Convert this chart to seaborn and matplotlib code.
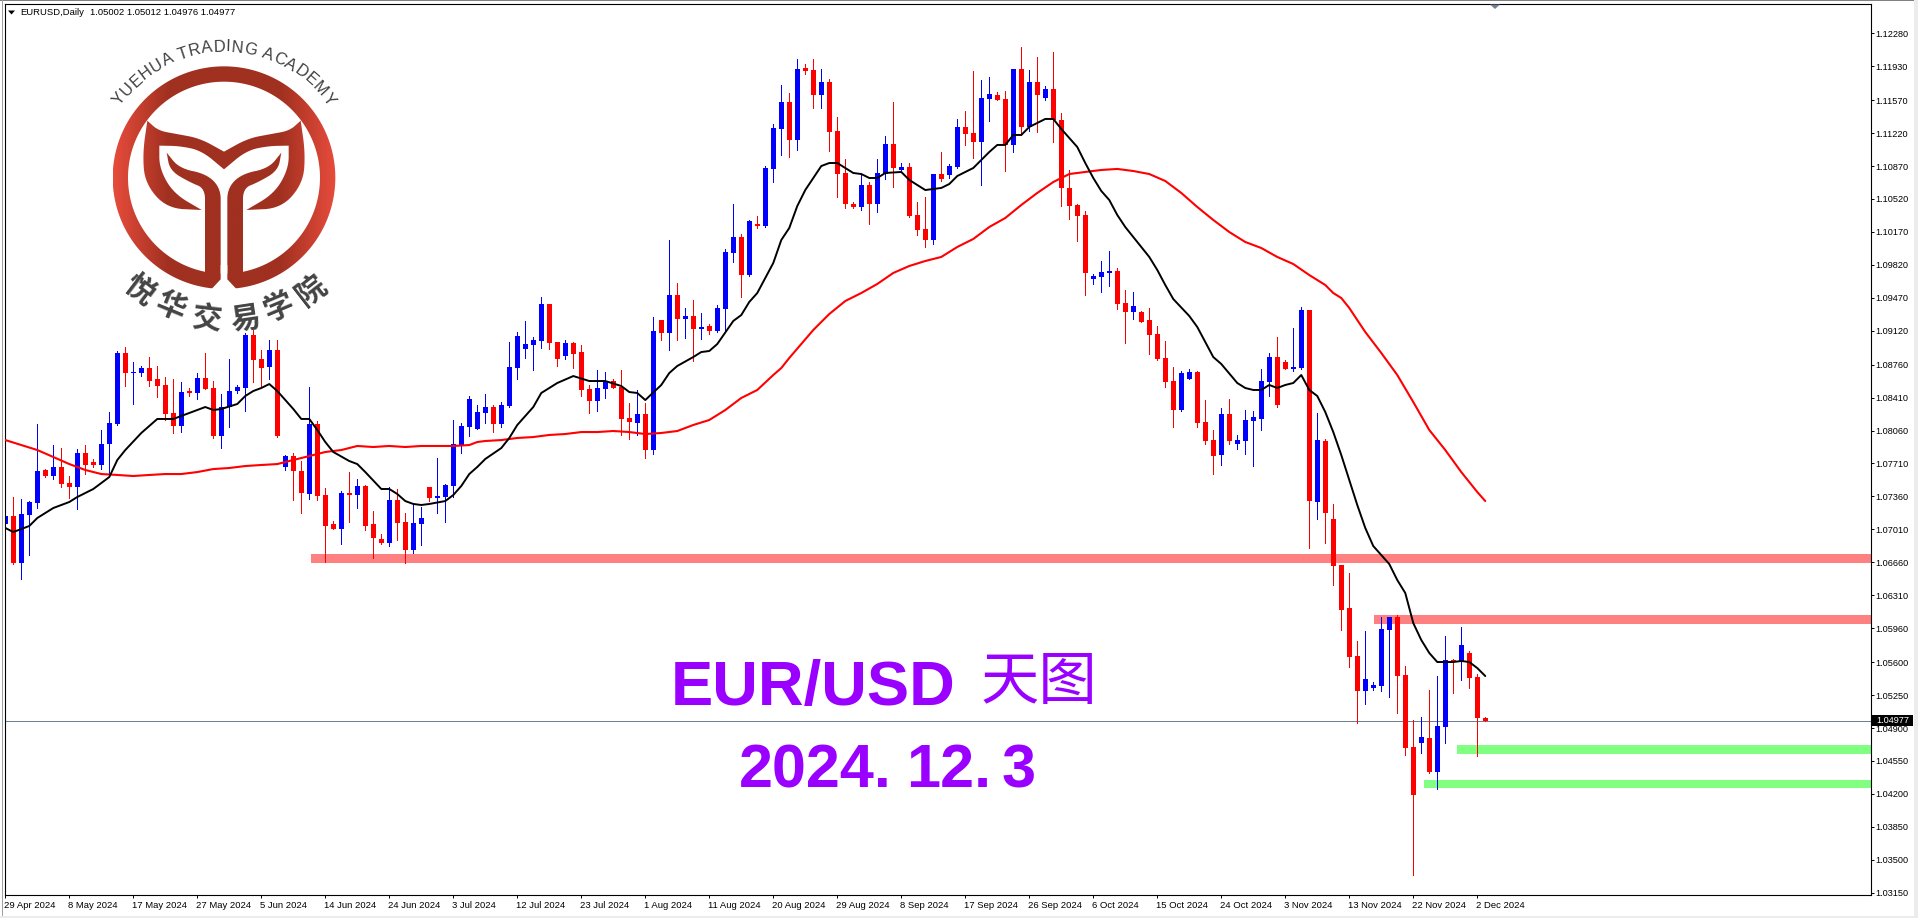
import numpy as np
import pandas as pd
import matplotlib
matplotlib.use('Agg')
import matplotlib.pyplot as plt
from matplotlib.font_manager import FontProperties, findfont, get_font
from matplotlib.patches import PathPatch, Polygon, Rectangle
from matplotlib.path import Path
from matplotlib.transforms import ScaledTranslation
import seaborn as sns

opens = [
    1.07067, 1.07152, 1.06657, 1.07163, 1.07294, 1.07641, 1.07581, 1.07673, 1.07503, 1.07460,
    1.07822, 1.07730, 1.07694, 1.07917, 1.08130, 1.08884, 1.08675, 1.08672, 1.08725, 1.08608,
    1.08544, 1.08247, 1.08108, 1.08480, 1.08459, 1.08618, 1.08512, 1.08002, 1.08310, 1.08480,
    1.08512, 1.09075, 1.08820, 1.08735, 1.08916, 1.07673, 1.07790, 1.07630, 1.07386, 1.08130,
    1.07376, 1.07067, 1.07014, 1.07397, 1.07376, 1.07471, 1.07067, 1.06908, 1.06866, 1.07322,
    1.07089, 1.06791, 1.07067, 1.07460, 1.07344, 1.07354, 1.07471, 1.07907, 1.08098, 1.08077,
    1.08247, 1.08311, 1.08130, 1.08321, 1.08725, 1.08927, 1.08969, 1.09012, 1.09405, 1.09001,
    1.08852, 1.08991, 1.08895, 1.08502, 1.08374, 1.08502, 1.08587, 1.08523, 1.08194, 1.08141,
    1.08236, 1.07854, 1.09235, 1.09097, 1.09500, 1.09245, 1.09277, 1.09139, 1.09171, 1.09118,
    1.09351, 1.09946, 1.10116, 1.09712, 1.10254, 1.10233, 1.10838, 1.11263, 1.11550, 1.11146,
    1.11911, 1.11890, 1.11625, 1.11763, 1.11242, 1.10796, 1.10467, 1.10435, 1.10668, 1.10467,
    1.10785, 1.11104, 1.10828, 1.10860, 1.10350, 1.10201, 1.10084, 1.10785, 1.10775, 1.10860,
    1.11285, 1.11221, 1.11125, 1.11582, 1.11625, 1.11582, 1.11093, 1.11901, 1.11285, 1.11763,
    1.11593, 1.11688, 1.11359, 1.10637, 1.10456, 1.10350, 1.09670, 1.09691, 1.09733, 1.09755,
    1.09415, 1.09319, 1.09319, 1.09234, 1.09085, 1.08830, 1.08586, 1.08278, 1.08607, 1.08682,
    1.08151, 1.07959, 1.07800, 1.08236, 1.07917, 1.07949, 1.08161, 1.08182, 1.08576, 1.08841,
    1.08788, 1.08714, 1.08724, 1.09341, 1.07301, 1.07949, 1.07120, 1.06632, 1.06175, 1.05665,
    1.05293, 1.05325, 1.05346, 1.05941, 1.06079, 1.05463, 1.04698, 1.04741, 1.04794, 1.04433,
    1.04911, 1.05622, 1.05601, 1.05697, 1.05442, 1.05002]
closes = [
    1.07152, 1.06650, 1.07174, 1.07301, 1.07630, 1.07581, 1.07673, 1.07492, 1.07460, 1.07822,
    1.07694, 1.07694, 1.07917, 1.08140, 1.08884, 1.08672, 1.08682, 1.08725, 1.08587, 1.08533,
    1.08236, 1.08108, 1.08470, 1.08459, 1.08618, 1.08502, 1.08002, 1.08310, 1.08480, 1.08523,
    1.09075, 1.08810, 1.08725, 1.08916, 1.08002, 1.07790, 1.07630, 1.07397, 1.08130, 1.07365,
    1.07046, 1.07014, 1.07397, 1.07376, 1.07471, 1.07046, 1.06919, 1.06866, 1.07322, 1.07078,
    1.06791, 1.07078, 1.07131, 1.07344, 1.07365, 1.07482, 1.07917, 1.08108, 1.08395, 1.08258,
    1.08311, 1.08130, 1.08332, 1.08736, 1.09065, 1.08980, 1.09022, 1.09405, 1.08991, 1.08821,
    1.08991, 1.08874, 1.08491, 1.08374, 1.08512, 1.08576, 1.08512, 1.08183, 1.08151, 1.08236,
    1.07854, 1.09118, 1.09097, 1.09500, 1.09245, 1.09277, 1.09139, 1.09160, 1.09118, 1.09362,
    1.09957, 1.10116, 1.09712, 1.10286, 1.10233, 1.10849, 1.11274, 1.11550, 1.11146, 1.11901,
    1.11879, 1.11625, 1.11763, 1.11231, 1.10785, 1.10467, 1.10435, 1.10668, 1.10467, 1.10796,
    1.11104, 1.10849, 1.10860, 1.10339, 1.10190, 1.10084, 1.10785, 1.10732, 1.10870, 1.11285,
    1.11210, 1.11125, 1.11593, 1.11635, 1.11571, 1.11093, 1.11901, 1.11285, 1.11763, 1.11625,
    1.11688, 1.11359, 1.10637, 1.10445, 1.10339, 1.09734, 1.09702, 1.09744, 1.09755, 1.09404,
    1.09319, 1.09383, 1.09213, 1.09075, 1.08820, 1.08576, 1.08278, 1.08671, 1.08682, 1.08140,
    1.07949, 1.07789, 1.08236, 1.07949, 1.07959, 1.08172, 1.08204, 1.08586, 1.08841, 1.08331,
    1.08714, 1.08735, 1.09340, 1.07312, 1.07960, 1.07184, 1.06621, 1.06153, 1.05654, 1.05293,
    1.05421, 1.05357, 1.05952, 1.06079, 1.05452, 1.04688, 1.04188, 1.04804, 1.04433, 1.04921,
    1.05622, 1.05601, 1.05782, 1.05431, 1.05006, 1.04977]
highs = [
    1.07344, 1.07354, 1.07329, 1.07312, 1.08130, 1.07648, 1.07907, 1.07875, 1.07577, 1.07864,
    1.07907, 1.07758, 1.08066, 1.08257, 1.08905, 1.08948, 1.08788, 1.08746, 1.08841, 1.08746,
    1.08629, 1.08608, 1.08576, 1.08512, 1.08672, 1.08884, 1.08587, 1.08448, 1.08820, 1.08544,
    1.09096, 1.09128, 1.08916, 1.09022, 1.09022, 1.07800, 1.07822, 1.07737, 1.08523, 1.08162,
    1.07450, 1.07099, 1.07418, 1.07620, 1.07545, 1.07482, 1.07206, 1.06961, 1.07460, 1.07439,
    1.07184, 1.07280, 1.07248, 1.07460, 1.07769, 1.07492, 1.08172, 1.08140, 1.08427, 1.08332,
    1.08449, 1.08332, 1.08364, 1.09001, 1.09107, 1.09224, 1.09054, 1.09479, 1.09405, 1.09001,
    1.09022, 1.09001, 1.08969, 1.08544, 1.08704, 1.08682, 1.08608, 1.08704, 1.08353, 1.08491,
    1.08353, 1.09267, 1.09235, 1.10085, 1.09628, 1.09362, 1.09447, 1.09309, 1.09192, 1.09394,
    1.09989, 1.10467, 1.10148, 1.10297, 1.10339, 1.10870, 1.11316, 1.11731, 1.11646, 1.12007,
    1.11954, 1.12007, 1.11901, 1.11794, 1.11391, 1.10945, 1.10488, 1.10775, 1.10700, 1.10945,
    1.11189, 1.11550, 1.10902, 1.10902, 1.10488, 1.10541, 1.10785, 1.11019, 1.10892, 1.11370,
    1.11455, 1.11879, 1.11784, 1.11816, 1.11656, 1.11667, 1.11901, 1.12134, 1.11890, 1.12028,
    1.11720, 1.12081, 1.11433, 1.10828, 1.10467, 1.10392, 1.09723, 1.09861, 1.09967, 1.09787,
    1.09553, 1.09532, 1.09330, 1.09362, 1.09170, 1.09011, 1.08735, 1.08692, 1.08714, 1.08692,
    1.08384, 1.08066, 1.08299, 1.08395, 1.08013, 1.08278, 1.08267, 1.08714, 1.08884, 1.09054,
    1.08809, 1.09149, 1.09372, 1.09341, 1.08246, 1.07970, 1.07280, 1.06632, 1.06546, 1.05824,
    1.05930, 1.05389, 1.06079, 1.06079, 1.06100, 1.05559, 1.04985, 1.05017, 1.05304, 1.05452,
    1.05877, 1.05633, 1.05973, 1.05718, 1.05474, 1.05012]
lows = [
    1.06897, 1.06643, 1.06487, 1.06738, 1.07241, 1.07570, 1.07545, 1.07464, 1.07344, 1.07227,
    1.07599, 1.07676, 1.07652, 1.07588, 1.08119, 1.08533, 1.08342, 1.08640, 1.08533, 1.08417,
    1.08172, 1.08034, 1.08045, 1.08427, 1.08395, 1.08502, 1.07981, 1.07875, 1.08098, 1.08459,
    1.08268, 1.08576, 1.08533, 1.08608, 1.07992, 1.07641, 1.07322, 1.07184, 1.07333, 1.07322,
    1.06664, 1.07014, 1.06855, 1.07089, 1.07237, 1.07004, 1.06706, 1.06855, 1.06834, 1.06897,
    1.06653, 1.06759, 1.06844, 1.07312, 1.07184, 1.07089, 1.07354, 1.07822, 1.08002, 1.08077,
    1.08141, 1.08045, 1.08098, 1.08311, 1.08608, 1.08831, 1.08704, 1.08937, 1.08927, 1.08746,
    1.08821, 1.08725, 1.08427, 1.08247, 1.08268, 1.08406, 1.08512, 1.08013, 1.07971, 1.08013,
    1.07769, 1.07811, 1.09022, 1.08916, 1.09022, 1.09044, 1.08799, 1.09033, 1.09086, 1.09107,
    1.09128, 1.09850, 1.09479, 1.09702, 1.10212, 1.10222, 1.10700, 1.10987, 1.10966, 1.11040,
    1.11848, 1.11486, 1.11486, 1.11030, 1.10541, 1.10424, 1.10424, 1.10403, 1.10254, 1.10382,
    1.10732, 1.10647, 1.10828, 1.10328, 1.10137, 1.10010, 1.10042, 1.10711, 1.10743, 1.10849,
    1.11093, 1.10955, 1.10668, 1.11348, 1.11571, 1.10817, 1.11019, 1.11200, 1.11242, 1.11231,
    1.11571, 1.11125, 1.10445, 1.10307, 1.10074, 1.09500, 1.09617, 1.09532, 1.09595, 1.09351,
    1.08990, 1.09245, 1.09213, 1.08873, 1.08809, 1.08522, 1.08097, 1.08267, 1.08607, 1.08097,
    1.07917, 1.07598, 1.07694, 1.07917, 1.07864, 1.07811, 1.07683, 1.08066, 1.08427, 1.08310,
    1.08714, 1.08692, 1.08714, 1.06812, 1.07120, 1.06865, 1.06419, 1.05941, 1.05548, 1.04953,
    1.05155, 1.05304, 1.05293, 1.05229, 1.05059, 1.04613, 1.03338, 1.04634, 1.04422, 1.04252,
    1.04741, 1.05272, 1.05410, 1.05325, 1.04603, 1.04976]

# fast moving average
fast_idx = [0, 1, 3, 4, 6, 8, 9, 11, 13, 14, 15, 17, 19, 21, 23, 25, 26, 27, 29, 30, 31, 32, 33, 34, 36, 37, 38, 39,
            40, 41, 43, 44, 45, 47, 48, 49, 50, 51, 52, 53, 55, 56, 57, 58, 59, 60, 62, 63, 64, 66, 67, 69, 71, 73, 75,
            77, 78, 79, 80, 82, 83, 84, 86, 87, 88, 89, 91, 92, 93, 94, 95, 96, 97, 98, 99, 100, 102, 103, 104, 106,
            107, 108, 109, 110, 112, 113, 115, 117, 118, 119, 121, 123, 124, 125, 126, 127, 128, 129, 130, 131, 132,
            134, 135, 136, 137, 138, 139, 140, 141, 143, 144, 145, 146, 148, 149, 151, 152, 154, 155, 156, 157, 158,
            159, 160, 161, 162, 163, 164, 165, 166, 167, 168, 169, 170, 171, 173, 174, 175, 176, 177, 178, 179, 181,
            182, 183, 184, 185]
fast_ma = [1.07025, 1.06982, 1.07046, 1.07131, 1.07237, 1.07301, 1.07354, 1.07439, 1.07566, 1.07747, 1.07853, 1.08034,
           1.08183, 1.08183, 1.08246, 1.08310, 1.08278, 1.08289, 1.08342, 1.08427, 1.08480, 1.08512, 1.08554, 1.08480,
           1.08289, 1.08183, 1.08183, 1.08066, 1.07938, 1.07832, 1.07736, 1.07704, 1.07619, 1.07439, 1.07439, 1.07386,
           1.07311, 1.07280, 1.07269, 1.07280, 1.07311, 1.07375, 1.07471, 1.07598, 1.07673, 1.07758, 1.07874, 1.07981,
           1.08119, 1.08310, 1.08459, 1.08565, 1.08639, 1.08586, 1.08586, 1.08533, 1.08469, 1.08459, 1.08384, 1.08544,
           1.08671, 1.08746, 1.08841, 1.08894, 1.08905, 1.08979, 1.09224, 1.09287, 1.09426, 1.09521, 1.09681, 1.09840,
           1.10084, 1.10212, 1.10445, 1.10615, 1.10870, 1.10902, 1.10902, 1.10796, 1.10785, 1.10743, 1.10743, 1.10796,
           1.10807, 1.10722, 1.10615, 1.10637, 1.10679, 1.10764, 1.10849, 1.11019, 1.11094, 1.11094, 1.11200, 1.11200,
           1.11285, 1.11327, 1.11370, 1.11370, 1.11264, 1.11072, 1.10902, 1.10743, 1.10605, 1.10509, 1.10350, 1.10222,
           1.10116, 1.09904, 1.09766, 1.09606, 1.09457, 1.09277, 1.09160, 1.08841, 1.08767, 1.08565, 1.08512, 1.08491,
           1.08491, 1.08544, 1.08512, 1.08544, 1.08565, 1.08650, 1.08491, 1.08427, 1.08257, 1.08044, 1.07800, 1.07534,
           1.07269, 1.07025, 1.06833, 1.06642, 1.06472, 1.06334, 1.06015, 1.05835, 1.05697, 1.05601, 1.05601, 1.05612,
           1.05601, 1.05537, 1.05452]

# slow moving average
slow_idx = [0, 2, 4, 6, 8, 10, 12, 14, 16, 18, 20, 22, 24, 26, 28, 30, 32, 34, 36, 38, 40, 42, 44, 46, 48, 50, 52, 54,
            56, 58, 59, 60, 62, 64, 66, 68, 70, 72, 74, 76, 78, 80, 82, 84, 86, 88, 90, 92, 94, 96, 97, 98, 101, 103,
            105, 107, 109, 111, 113, 115, 117, 119, 121, 123, 125, 127, 129, 131, 133, 135, 137, 139, 141, 143, 145,
            147, 149, 151, 153, 155, 157, 159, 161, 163, 165, 166, 167, 168, 169, 170, 172, 174, 176, 178, 180, 182,
            184, 185]
slow_ma = [1.07959, 1.07906, 1.07853, 1.07779, 1.07704, 1.07641, 1.07598, 1.07588, 1.07577, 1.07588, 1.07598, 1.07598,
           1.07619, 1.07651, 1.07662, 1.07683, 1.07694, 1.07704, 1.07747, 1.07789, 1.07832, 1.07853, 1.07896, 1.07885,
           1.07896, 1.07885, 1.07896, 1.07896, 1.07896, 1.07906, 1.07938, 1.07949, 1.07959, 1.07981, 1.07991, 1.08013,
           1.08023, 1.08044, 1.08044, 1.08055, 1.08044, 1.08023, 1.08034, 1.08055, 1.08119, 1.08172, 1.08278, 1.08406,
           1.08491, 1.08650, 1.08724, 1.08831, 1.09128, 1.09298, 1.09436, 1.09521, 1.09617, 1.09734, 1.09808, 1.09861,
           1.09904, 1.10010, 1.10095, 1.10222, 1.10318, 1.10456, 1.10584, 1.10700, 1.10785, 1.10807, 1.10828, 1.10839,
           1.10817, 1.10785, 1.10711, 1.10584, 1.10435, 1.10297, 1.10169, 1.10063, 1.09999, 1.09904, 1.09829, 1.09712,
           1.09606, 1.09521, 1.09468, 1.09362, 1.09234, 1.09107, 1.08884, 1.08650, 1.08363, 1.08066, 1.07853, 1.07619,
           1.07407, 1.07311]

price_ticks = [1.12280, 1.11930, 1.11570, 1.11220, 1.10870, 1.10520, 1.10170, 1.09820, 1.09470, 1.09120, 1.08760,
               1.08410, 1.08060, 1.07710, 1.07360, 1.07010, 1.06660, 1.06310, 1.05960, 1.05600, 1.05250, 1.04900,
               1.04550, 1.04200, 1.03850, 1.03500, 1.03150]
date_labels = ['29 Apr 2024', '8 May 2024', '17 May 2024', '27 May 2024', '5 Jun 2024', '14 Jun 2024', '24 Jun 2024',
               '3 Jul 2024', '12 Jul 2024', '23 Jul 2024', '1 Aug 2024', '11 Aug 2024', '20 Aug 2024', '29 Aug 2024',
               '8 Sep 2024', '17 Sep 2024', '26 Sep 2024', '6 Oct 2024', '15 Oct 2024', '24 Oct 2024', '3 Nov 2024',
               '13 Nov 2024', '22 Nov 2024', '2 Dec 2024']
date_step = 8

# zones: first candle, low price, high price
red_zones = [(38.2, 1.06653, 1.06748), (171.1, 1.06005, 1.06100)]
green_zones = [(181.5, 1.04624, 1.04719), (177.3, 1.04262, 1.04347)]
last_price = 1.04977

UP = '#0000ff'
DOWN = '#ff0000'
PURPLE = '#9900ff'
W, H = 1918, 918

sns.set_theme(style='white')
plt.rcParams['font.family'] = ['Liberation Sans', 'Noto Sans CJK SC', 'DejaVu Sans']

candles = pd.DataFrame({'open': opens, 'high': highs, 'low': lows, 'close': closes})
candles['i'] = candles.index
candles['color'] = np.where(candles['close'] >= candles['open'], UP, DOWN)
fast = pd.DataFrame({'i': fast_idx, 'ma': fast_ma})
slow = pd.DataFrame({'i': slow_idx, 'ma': slow_ma})

fig = plt.figure(figsize=(W / 100, H / 100), dpi=100, facecolor='white')
ax = fig.add_axes([4.5 / W, 1 - 895 / H, (1870.7 - 4.5) / W, (895 - 4.3) / H])
xmax = 233.18
for x0, lo, hi in red_zones:
    ax.fill_between([x0, xmax], lo, hi, color='#ff8080', lw=0, zorder=1)
for x0, lo, hi in green_zones:
    ax.fill_between([x0, xmax], lo, hi, color='#80ff80', lw=0, zorder=1)
ax.axhline(last_price, color='#708090', lw=0.72, zorder=1.5)

ax.vlines(candles['i'], candles['low'], candles['high'], colors=candles['color'], lw=0.6, zorder=2, antialiased=False)
body_low = candles[['open', 'close']].min(axis=1)
body_high = candles[['open', 'close']].max(axis=1)
ax.bar(candles['i'], body_high - body_low, bottom=body_low, width=0.64, color=candles['color'], lw=0, zorder=2,
       antialiased=False)

sns.lineplot(data=slow, x='i', y='ma', color='#ff0000', lw=1.5, ax=ax, zorder=3, estimator=None, legend=False)
sns.lineplot(data=fast, x='i', y='ma', color='black', lw=1.4, ax=ax, zorder=4, estimator=None, legend=False)

ax.set_xlim(-0.1, xmax)
ax.set_ylim(1.03126, 1.12588)
ax.set_xlabel('')
ax.set_ylabel('')
ax.yaxis.tick_right()
ax.set_yticks(price_ticks)
ax.set_yticklabels(['%.5f' % v for v in price_ticks])
ax.set_xticks(np.arange(len(date_labels)) * date_step)
ax.set_xticklabels(date_labels, ha='left')
ax.tick_params(axis='y', length=2.2, width=0.7, pad=1.5, labelsize=6.6, colors='black', right=True, left=False)
ax.tick_params(axis='x', length=2.2, width=0.7, pad=2, labelsize=6.8, colors='black', bottom=True)
for label in ax.get_xticklabels():
    label.set_transform(label.get_transform() + ScaledTranslation(-1 / 100, 0, fig.dpi_scale_trans))
for spine in ax.spines.values():
    spine.set_color('black')
    spine.set_linewidth(0.8)

# window chrome, header and overlay text in pixel coordinates
over = fig.add_axes([0, 0, 1, 1], facecolor='none', zorder=10)
over.set_xlim(0, W)
over.set_ylim(H, 0)
over.axis('off')
over.add_patch(Rectangle((0, 0), W, 1, color='#808080', lw=0))
over.add_patch(Rectangle((1.5, 0), 1.5, H, color='#a0a0a0', lw=0))
over.add_patch(Rectangle((1914, 0), 4, H, color='#ececec', lw=0))
over.add_patch(Rectangle((0, 916), W, 2, color='#ececec', lw=0))
over.add_patch(Polygon([[8, 10.5], [15, 10.5], [11.5, 14.5]], color='black', lw=0))
over.add_patch(Polygon([[1490, 4.5], [1500, 4.5], [1495, 9]], color='#708090', lw=0))
over.text(20, 12.5, 'EURUSD,Daily', fontsize=6.8, va='center', ha='left', color='black')
over.text(90.5, 12.5, '1.05002 1.05012 1.04976 1.04977', fontsize=6.8, va='center', ha='left', color='black')
over.add_patch(Rectangle((1872, 715), 41, 11, color='black', lw=0))
over.text(1876, 720.8, '%.5f' % last_price, fontsize=6.6, color='white', va='center', ha='left')

over.text(671, 682, 'EUR/USD', fontsize=45.5, fontweight='bold', color=PURPLE, ha='left', va='center_baseline')
over.text(1039, 682, '天图', fontsize=42, color=PURPLE, ha='center', va='center', family=['Noto Sans CJK SC'])
date_parts = [(739, '2024.'), (906, '12.'), (1002, '3')]
for x, part in date_parts:
    over.text(x, 765, part, fontsize=44, fontweight='bold', color=PURPLE, ha='left', va='center_baseline')

# logo, drawn in the 3x crop coordinates
logo = fig.add_axes([90 / W, 1 - 340 / H, 280 / W, 320 / H], facecolor='none', zorder=9)
logo.set_xlim(0, 840)
logo.set_ylim(960, 0)
logo.axis('off')
CX, CY = 402, 473
MOVE, LINE = Path.MOVETO, Path.LINETO
theta = np.linspace(0, 2 * np.pi, 181)
ring_verts = np.vstack([np.c_[CX + 334 * np.cos(theta), CY + 334 * np.sin(theta)],
                        np.c_[CX + 288 * np.cos(theta[::-1]), CY + 288 * np.sin(theta[::-1])]])
ring_codes = [MOVE] + [LINE] * 180 + [MOVE] + [LINE] * 180


def mirror(points):
    return [(2 * CX - x, y) for x, y in points]


def smooth(points, rounds=3):
    # corner cutting, keeps both end points
    pts = np.array(points, dtype=float)
    for _ in range(rounds):
        a = pts[:-1] * 0.75 + pts[1:] * 0.25
        b = pts[:-1] * 0.25 + pts[1:] * 0.75
        mid = np.empty((len(a) * 2, 2))
        mid[0::2] = a
        mid[1::2] = b
        pts = np.vstack([pts[0], mid, pts[-1]])
    return [tuple(p) for p in pts]


band_top = smooth([(172, 302), (205, 332), (260, 342), (330, 355), (402, 395)])
band_low = smooth([(402, 448), (335, 392), (270, 378), (208, 377)])
lobe_in = smooth([(208, 377), (208, 445), (250, 520), (335, 570)])
lobe_out = smooth([(335, 570), (230, 565), (165, 490), (158, 400), (172, 302)])
left_side = lobe_in + lobe_out
wing = Polygon(band_top + mirror(band_top)[::-1] + mirror(left_side)[::-1] + mirror(band_low)[::-1]
               + band_low + left_side)

leaf_top = smooth([(230, 398), (268, 445), (350, 462), (392, 505), (392, 570)])
leaf_low = smooth([(345, 570), (345, 505), (300, 487), (240, 452), (230, 398)])
stem_left = leaf_top + [(392, 790), (345, 790)] + leaf_low

shapes = [PathPatch(Path(ring_verts, ring_codes)), wing, Polygon(stem_left), Polygon(mirror(stem_left))]
logo_cmap = sns.blend_palette(['#e74c3c', '#a03020', '#a03020', '#a03020', '#e74c3c'], as_cmap=True)
gradient = np.linspace(0, 1, 256).reshape(1, -1)
for shape in shapes:
    shape.set(facecolor='none', edgecolor='none')
    logo.add_patch(shape)
    im = logo.imshow(gradient, cmap=logo_cmap, extent=(68, 736, 960, 0), aspect='auto', zorder=1)
    im.set_clip_path(shape)
logo.set_xlim(0, 840)
logo.set_ylim(960, 0)
# gap and rounded feet at the bottom of the ring
logo.add_patch(Polygon([(392, 735), (412, 735), (412, 778), (442, 810), (362, 810), (392, 778)], color='white', lw=0,
                       zorder=2))

arc_font = FontProperties(family='Liberation Sans')
arc_text = 'YUEHUA TRADING ACADEMY'
arc_size = 11.9
ft = get_font(findfont(arc_font))
ft.set_size(arc_size, 100)
advances = []
for ch in arc_text:
    glyph = ft.load_char(ord(ch))
    advances.append(glyph.linearHoriAdvance / 65536 * 3)
advances = np.array(advances)
angles = np.cumsum(advances) - advances / 2
angles = (angles / advances.sum() - 0.5) * 2 * np.radians(55.8)
for ch, a in zip(arc_text, angles):
    x = CX + 392 * np.sin(a)
    y = CY - 392 * np.cos(a)
    logo.text(x, y, ch, fontsize=arc_size, color='#404040', ha='center', va='center', rotation=-np.degrees(a),
              rotation_mode='anchor', family=['Liberation Sans'])

cn_text = '悦华交易学院'
cn_pos = [(148, 808), (243, 860), (352, 897), (465, 895), (565, 862), (665, 812)]
for ch, (x, y) in zip(cn_text, cn_pos):
    a = np.degrees(np.arctan2(x - CX, y - CY))
    logo.text(x, y, ch, fontsize=21.5, color='#444444', ha='center', va='center', rotation=a, rotation_mode='anchor',
              family=['Noto Sans CJK SC'], fontweight='bold')

fig.savefig('out.png', dpi=100)
